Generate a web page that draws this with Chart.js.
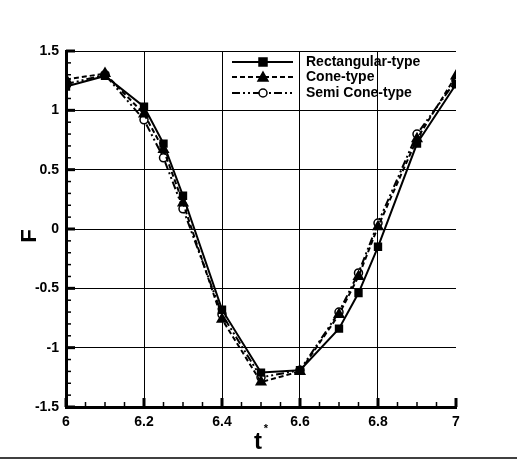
<!DOCTYPE html>
<html>
<head>
<meta charset="utf-8">
<script src="https://cdn.jsdelivr.net/npm/chart.js@4"></script>
<style>
  html, body { margin: 0; padding: 0; background: #fff; }
  #wrap { width: 517px; height: 463px; position: relative; }
</style>
</head>
<body>
<div id="wrap"><canvas id="myChart"></canvas></div>
<script>
const tValues = [6, 6.1, 6.2, 6.25, 6.3, 6.4, 6.5, 6.6, 6.7, 6.75, 6.8, 6.9, 7];
const rectType = [1.2, 1.29, 1.03, 0.72, 0.28, -0.68, -1.21, -1.19, -0.84, -0.54, -0.15, 0.72, 1.22];
const coneType = [1.26, 1.31, 0.97, 0.67, 0.22, -0.76, -1.29, -1.2, -0.72, -0.4, 0.02, 0.76, 1.29];
const semiConeType = [1.22, 1.3, 0.92, 0.6, 0.17, -0.72, -1.25, -1.19, -0.7, -0.37, 0.05, 0.8, 1.25];
const seriesNames = ['Rectangular-type', 'Cone-type', 'Semi Cone-type'];

const FONT = '"Liberation Sans", Arial, sans-serif';

function toPoints(ys) {
    return tValues.map((t, i) => ({ x: t, y: ys[i] }));
}

// minor/major ticks drawn inside the axes, axis titles, custom legend
const decor = {
    id: 'decor',
    afterDraw(chart) {
        const c = chart.ctx;
        const xs = chart.scales.x, ys = chart.scales.y;
        const a = chart.chartArea;
        c.save();
        c.strokeStyle = '#000';
        // x ticks
        for (let i = 0; i <= 20; i++) {
            const v = 6 + i * 0.05;
            const px = xs.getPixelForValue(v);
            const major = i % 4 === 0;
            c.lineWidth = major ? 3 : 1.5;
            c.beginPath();
            c.moveTo(px, a.bottom);
            c.lineTo(px, a.bottom - (major ? 9 : 5));
            c.stroke();
        }
        // y ticks
        for (let i = 0; i <= 30; i++) {
            const v = -1.5 + i * 0.1;
            const py = ys.getPixelForValue(v);
            const major = i % 5 === 0;
            c.lineWidth = major ? 3 : 1.5;
            c.beginPath();
            c.moveTo(a.left, py);
            c.lineTo(a.left + (major ? 9 : 5), py);
            c.stroke();
        }
        // axis titles
        c.fillStyle = '#000';
        c.font = 'bold 22px ' + FONT;
        c.textAlign = 'center';
        c.textBaseline = 'middle';
        c.save();
        c.translate(30, 236);
        c.rotate(-Math.PI / 2);
        c.fillText('F', 0, 0);
        c.restore();
        c.font = 'bold 24px ' + FONT;
        c.fillText('t', 258, 442);
        c.font = 'bold 11px ' + FONT;
        c.fillText('*', 266, 429);

        // legend
        const rows = [62, 77, 93];
        chart.data.datasets.forEach((ds, i) => {
            const y = rows[i];
            c.strokeStyle = '#000';
            c.lineWidth = 2;
            c.setLineDash(ds.borderDash || []);
            c.beginPath();
            c.moveTo(232, y);
            c.lineTo(293, y);
            c.stroke();
            c.setLineDash([]);
            drawMarker(c, ds.pointStyle, 263, y, ds.pointBackgroundColor === '#fff');
            c.fillStyle = '#000';
            c.font = 'bold 14px ' + FONT;
            c.textAlign = 'left';
            c.fillText(ds.label, 306, y);
        });

        // scan edge line at the bottom
        c.lineWidth = 1.5;
        c.beginPath();
        c.moveTo(0, 458);
        c.lineTo(517, 458);
        c.stroke();
        c.restore();
    }
};

function drawMarker(c, style, x, y, open) {
    c.save();
    c.fillStyle = open ? '#fff' : '#000';
    c.strokeStyle = '#000';
    c.lineWidth = 1.5;
    c.beginPath();
    if (style === 'rect') {
        c.rect(x - 4, y - 4, 8, 8);
    } else if (style === 'triangle') {
        c.moveTo(x, y - 5);
        c.lineTo(x + 5, y + 4);
        c.lineTo(x - 5, y + 4);
        c.closePath();
    } else {
        c.arc(x, y, 4, 0, Math.PI * 2);
    }
    c.fill();
    c.stroke();
    c.restore();
}

new Chart(document.getElementById('myChart'), {
    type: 'line',
    data: {
        datasets: [{
            label: seriesNames[0],
            data: toPoints(rectType),
            borderColor: '#000',
            borderWidth: 2,
            pointStyle: 'rect',
            pointRadius: 4.5,
            pointBackgroundColor: '#000',
            pointBorderColor: '#000'
        },
        {
            label: seriesNames[1],
            data: toPoints(coneType),
            borderColor: '#000',
            borderWidth: 2,
            borderDash: [5, 3],
            pointStyle: 'triangle',
            pointRadius: 5,
            pointBackgroundColor: '#000',
            pointBorderColor: '#000'
        },
        {
            label: seriesNames[2],
            data: toPoints(semiConeType),
            borderColor: '#000',
            borderWidth: 2,
            borderDash: [8, 3, 2, 3, 2, 3],
            pointStyle: 'circle',
            pointRadius: 4,
            pointBorderWidth: 1.5,
            pointBackgroundColor: '#fff',
            pointBorderColor: '#000'
        }
        ]
    },
    options: {
        responsive: true,
        maintainAspectRatio: false,
        animation: false,
        layout: {
            padding: { left: 0, right: 61, top: 51, bottom: 0 }
        },
        plugins: {
            legend: false,
            tooltip: { enabled: false }
        },
        scales: {
            x: {
                type: 'linear',
                min: 6,
                max: 7,
                afterFit(s) { s.height = 56; },
                ticks: {
                    stepSize: 0.2,
                    color: '#000',
                    font: { family: FONT, size: 14, weight: 'bold' },
                    padding: 7,
                    maxRotation: 0,
                    callback: v => Number(v.toFixed(1)).toString()
                },
                grid: {
                    color: ctx => (ctx.tick && ctx.tick.value === 7) ? 'rgba(0,0,0,0)' : '#000',
                    lineWidth: 1,
                    drawTicks: false
                },
                border: { color: '#000', width: 3 }
            },
            y: {
                min: -1.5,
                max: 1.5,
                afterFit(s) { s.width = 66; },
                ticks: {
                    stepSize: 0.5,
                    color: '#000',
                    font: { family: FONT, size: 14, weight: 'bold' },
                    padding: 7,
                    callback: v => Number(v.toFixed(1)).toString()
                },
                grid: {
                    color: '#000',
                    lineWidth: 1,
                    drawTicks: false
                },
                border: { color: '#000', width: 3 }
            }
        }
    },
    plugins: [decor]
});
</script>
</body>
</html>
